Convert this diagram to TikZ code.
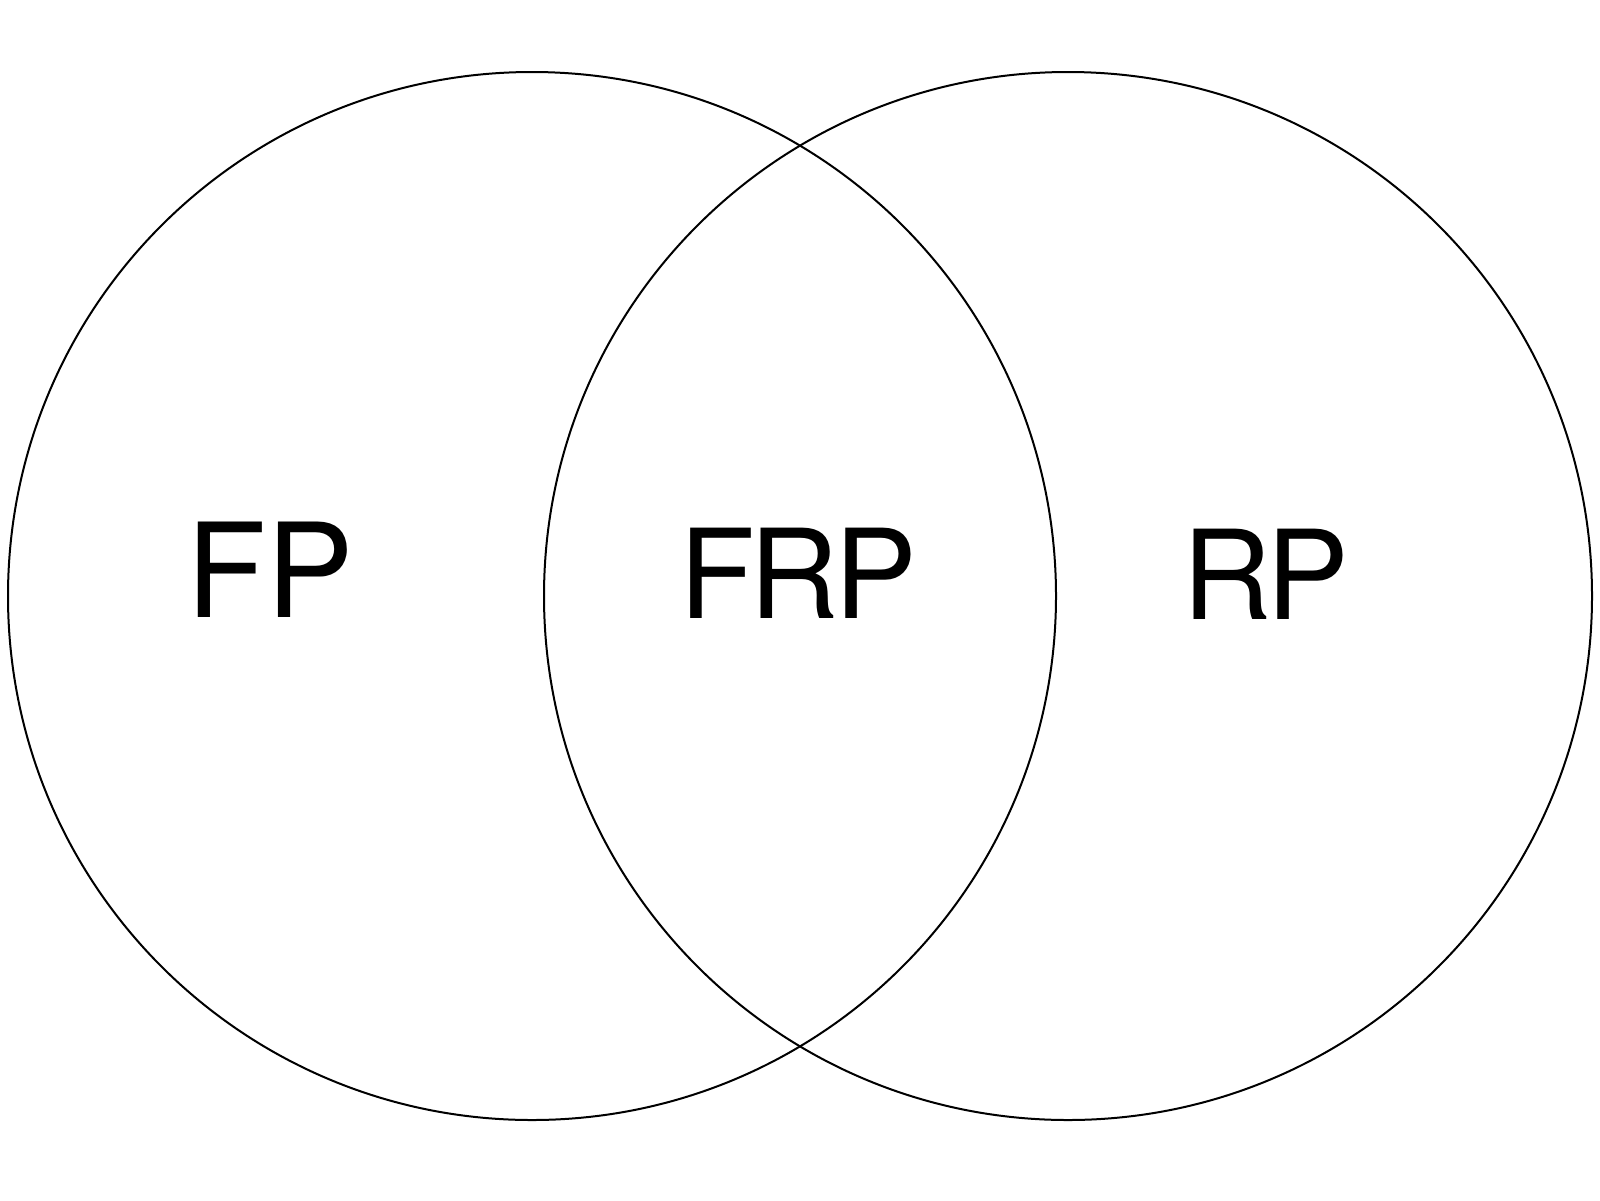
\documentclass[tikz,border=0pt]{standalone}
\usepackage{fontspec}
\setmainfont{TeX Gyre Heros}
\begin{document}
\begin{tikzpicture}[x=1pt,y=-1pt,
  ring/.style={draw=black,line width=2pt},
  lbl/.style={inner sep=0pt,anchor=center},
  big/.style={lbl,font=\fontsize{131}{140}\selectfont},
  mid/.style={lbl,font=\fontsize{124}{130}\selectfont}]
\useasboundingbox (0,0) rectangle (1600,1200);
\fill[white] (0,0) rectangle (1600,1200);
\draw[ring] (532,596) circle[radius=524];
\draw[ring] (1068,596) circle[radius=524];
\node[big] (fp) at (270,569.5) {FP};
\node[mid] (frp) at (798,573) {F\kern-5pt R\kern-5pt P};
\node[mid] (rp) at (1266,574) {R\kern-6pt P};
\end{tikzpicture}
\end{document}
